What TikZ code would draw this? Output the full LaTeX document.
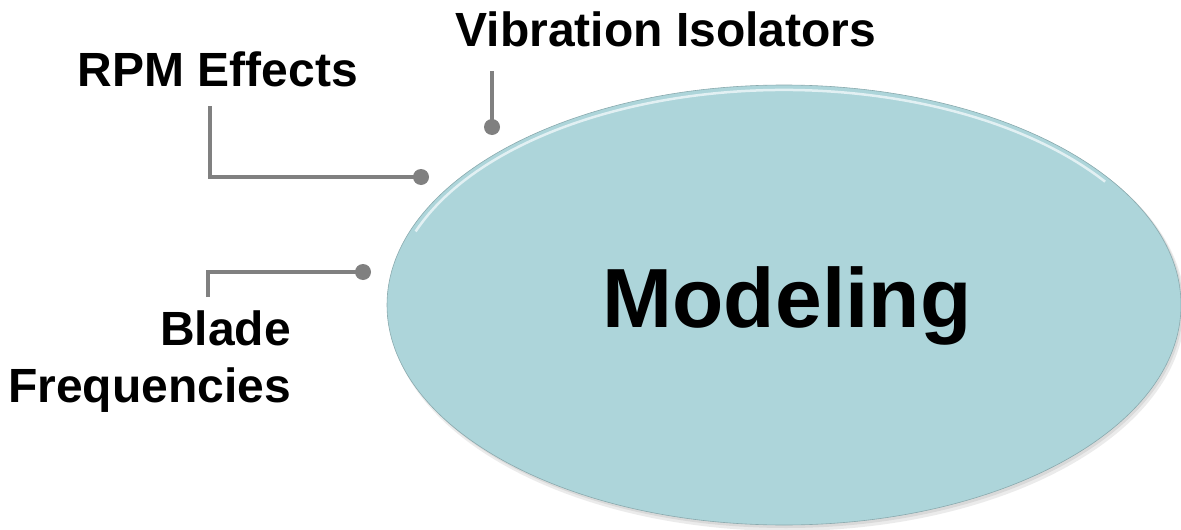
\documentclass[tikz,border=0pt]{standalone}
\usepackage{fontspec}
\setmainfont{Liberation Sans}
\usetikzlibrary{shapes.geometric}
\definecolor{bubble}{HTML}{ADD5DA}
\definecolor{rim}{HTML}{E8F4F6}
\definecolor{conn}{HTML}{808080}
\tikzset{
  label/.style={font=\fontsize{48}{52}\selectfont\bfseries, inner sep=0pt},
  connector/.style={draw=conn, line width=4pt},
  dot/.style={fill=conn},
}
\begin{document}
\begin{tikzpicture}[x=1pt,y=-1pt]
\useasboundingbox (0,0) rectangle (1181,530);
% ellipse shadow and body
\fill[black,opacity=0.08] (787,309) ellipse [x radius=398, y radius=222];
\fill[black,opacity=0.08] (786,307) ellipse [x radius=397, y radius=221];
\node[ellipse, fill=bubble, draw=bubble!80!black, line width=0.6pt,
      minimum width=794pt, minimum height=440pt, inner sep=0pt] (model) at (784,305) {};
\draw[rim, line width=2.5pt, opacity=0.9]
  (784,305) ++(200:392 and 215) arc[start angle=200, end angle=325, x radius=392, y radius=215];
\node[font=\fontsize{84}{90}\selectfont\bfseries, anchor=base, inner sep=0pt] (mtext) at (787,327) {Modeling};
% labels
\node[label, anchor=base] (vib) at (666,46) {Vibration Isolators};
\node[label, anchor=base] (rpm) at (218,86) {RPM Effects};
\node[label, anchor=base east] (blade) at (291,345) {Blade};
\node[label, anchor=base east] (freq) at (291,402) {Frequencies};
% connector points
\coordinate (vibtop) at (492,71);
\coordinate (vibdot) at (492,127);
\coordinate (rpmtop) at (210,106);
\coordinate (rpmdot) at (421,177);
\coordinate (bladetop) at (208,297);
\coordinate (bladedot) at (363,272);
\draw[connector] (vibtop) -- (vibdot);
\draw[connector] (rpmtop) |- (rpmdot);
\draw[connector] (bladetop) |- (bladedot);
\fill[dot] (vibdot) circle (8);
\fill[dot] (rpmdot) circle (8);
\fill[dot] (bladedot) circle (8);
\end{tikzpicture}
\end{document}
